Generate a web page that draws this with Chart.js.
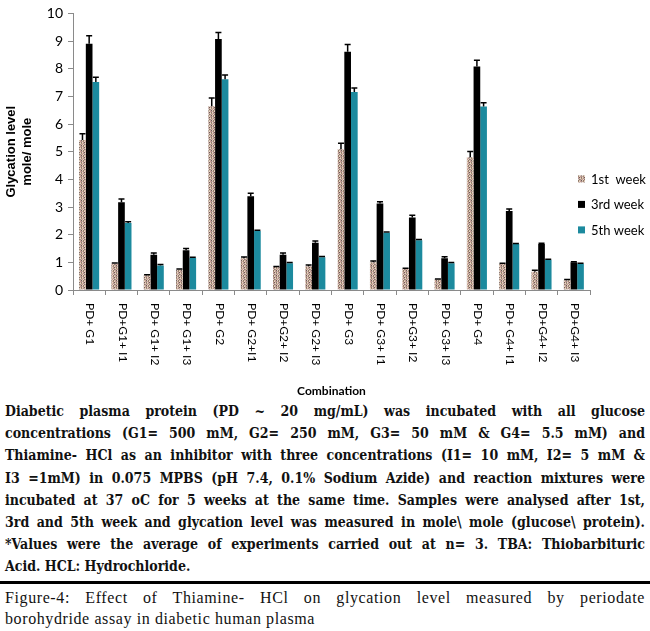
<!DOCTYPE html>
<html lang="en">
  <head>
    <meta charset="UTF-8" />
    <title>Glycation level</title>
    <script src="https://cdn.jsdelivr.net/npm/chart.js"></script>
    <style>
      body {
        margin: 0;
        background: #fff;
        width: 650px;
      }
      .chart-box {
        position: relative;
        width: 650px;
        height: 400px;
      }
      .caption {
        font-family: "DejaVu Serif", "Liberation Serif", serif;
        font-stretch: condensed;
        font-weight: bold;
        font-size: 14px;
        line-height: 22.2px;
        color: #111;
        padding: 0 5px;
      }
      .caption div {
        white-space: nowrap;
        text-align: justify;
        text-align-last: justify;
      }
      .caption div.last {
        text-align-last: left;
      }
      .rule {
        margin: 3px 0 0 0;
        border-top: 3px solid #000;
      }
      .figure {
        font-family: "Liberation Serif", "Times New Roman", serif;
        font-size: 16px;
        letter-spacing: 0.6px;
        line-height: 21px;
        color: #111;
        padding: 3px 5px 0 5px;
      }
      .figure div {
        white-space: nowrap;
        text-align: justify;
        text-align-last: justify;
      }
      .figure div.last {
        text-align-last: left;
      }
    </style>
  </head>
  <body>
    <div class="chart-box"><canvas id="chart"></canvas></div>

    <div class="caption">
      <div>Diabetic plasma protein (PD ~ 20 mg/mL) was incubated with all glucose</div>
      <div>concentrations (G1= 500 mM, G2= 250 mM, G3= 50 mM &amp; G4= 5.5 mM) and</div>
      <div>Thiamine- HCl as an inhibitor with three concentrations (I1= 10 mM, I2= 5 mM &amp;</div>
      <div>I3 =1mM) in 0.075 MPBS (pH 7.4, 0.1% Sodium Azide) and reaction mixtures were</div>
      <div>incubated at 37 oC for 5 weeks at the same time. Samples were analysed after 1st,</div>
      <div>3rd and 5th week and glycation level was measured in mole\ mole (glucose\ protein).</div>
      <div>*Values were the average of experiments carried out at n= 3. TBA: Thiobarbituric</div>
      <div class="last">Acid. HCL: Hydrochloride.</div>
    </div>
    <div class="rule"></div>
    <div class="figure">
      <div>Figure-4: Effect of Thiamine- HCl on glycation level measured by periodate</div>
      <div class="last">borohydride assay in diabetic human plasma</div>
    </div>

    <script>
      // categories
      const labels = [
        "PD+ G1", "PD+G1+ I1", "PD+ G1+ I2", "PD+ G1+ I3",
        "PD+ G2", "PD+ G2+I1", "PD+G2+ I2", "PD+ G2+ I3",
        "PD+ G3", "PD+ G3+ I1", "PD+G3+ I2", "PD+ G3+ I3",
        "PD+ G4", "PD+ G4+ I1", "PD+G4+ I2", "PD+G4+ I3"
      ];
      const seriesNames = ["1st  week", "3rd week", "5th week"];

      // glycation level (mole/mole)
      const week1 = [5.42, 0.95, 0.53, 0.73, 6.64, 1.15, 0.83, 0.86, 5.09, 1.00, 0.77, 0.38, 4.80, 0.95, 0.66, 0.35];
      const week3 = [8.90, 3.17, 1.27, 1.44, 9.07, 3.39, 1.27, 1.71, 8.61, 3.13, 2.62, 1.15, 8.08, 2.86, 1.66, 1.00];
      const week5 = [7.52, 2.42, 0.89, 1.16, 7.62, 2.13, 0.97, 1.18, 7.16, 2.07, 1.80, 0.97, 6.63, 1.66, 1.09, 0.95];

      // upper error bars
      const err1 = [0.23, 0.03, 0.02, 0.03, 0.30, 0.04, 0.02, 0.04, 0.22, 0.05, 0.02, 0.02, 0.21, 0.02, 0.05, 0.03];
      const err3 = [0.29, 0.12, 0.07, 0.06, 0.24, 0.11, 0.07, 0.06, 0.27, 0.06, 0.08, 0.05, 0.23, 0.07, 0.03, 0.02];
      const err5 = [0.17, 0.05, 0.03, 0.02, 0.15, 0.03, 0.02, 0.03, 0.14, 0.03, 0.03, 0.02, 0.14, 0.02, 0.02, 0.02];

      const yTicks = [0, 1, 2, 3, 4, 5, 6, 7, 8, 9, 10];

      const canvas = document.getElementById("chart");

      // speckled fill for the 1st week bars
      function speckle() {
        const tones = ["#c9ad9c", "#8d776b", "#c79a94", "#e6d3c6", "#9e8a72", "#6e5c58", "#d6bda4", "#a9908f"];
        const cells = [
          [0, 5, 3, 1, 6],
          [2, 7, 0, 4, 3],
          [6, 1, 3, 2, 5],
          [3, 4, 6, 7, 0],
          [7, 0, 2, 3, 1],
        ];
        const c = document.createElement("canvas");
        c.width = 5;
        c.height = 5;
        const g = c.getContext("2d");
        cells.forEach((row, j) => {
          row.forEach((t, i) => {
            g.fillStyle = tones[t];
            g.fillRect(i, j, 1, 1);
          });
        });
        return canvas.getContext("2d").createPattern(c, "repeat");
      }

      const errors = [err1, err3, err5];

      // error bars, upper half only
      const errorBars = {
        id: "errorBars",
        afterDatasetsDraw(chart) {
          const ctx = chart.ctx;
          const y = chart.scales.y;
          ctx.save();
          ctx.strokeStyle = "#000";
          ctx.lineWidth = 1.5;
          chart.data.datasets.forEach((ds, di) => {
            chart.getDatasetMeta(di).data.forEach((bar, i) => {
              const top = y.getPixelForValue(ds.data[i] + errors[di][i]);
              ctx.beginPath();
              ctx.moveTo(bar.x, bar.y);
              ctx.lineTo(bar.x, top);
              ctx.moveTo(bar.x - 3, top);
              ctx.lineTo(bar.x + 3, top);
              ctx.stroke();
            });
          });
          ctx.restore();
        },
      };

      // category labels read top to bottom
      const downLabels = {
        id: "downLabels",
        afterDraw(chart) {
          const ctx = chart.ctx;
          const x = chart.scales.x;
          ctx.save();
          ctx.fillStyle = "#000";
          ctx.font = "12px Lato, sans-serif";
          ctx.textAlign = "left";
          ctx.textBaseline = "middle";
          chart.data.labels.forEach((lab, i) => {
            ctx.save();
            ctx.translate(x.getPixelForTick(i) + 1, x.top + 13);
            ctx.rotate(Math.PI / 2);
            ctx.fillText(lab, 0, 0);
            ctx.restore();
          });
          ctx.restore();
        },
      };

      // legend to the right, above the last groups
      const sideLegend = {
        id: "sideLegend",
        afterDraw(chart) {
          const ctx = chart.ctx;
          const area = chart.chartArea;
          ctx.save();
          ctx.font = "13px Lato, sans-serif";
          ctx.textBaseline = "middle";
          chart.data.datasets.forEach((ds, i) => {
            const cy = area.top + 166 + i * 25.5;
            ctx.fillStyle = ds.backgroundColor;
            ctx.fillRect(area.right - 12, cy - 4, 7, 7);
            ctx.fillStyle = "#000";
            ctx.fillText(ds.label, area.right + 1, cy);
          });
          ctx.restore();
        },
      };

      new Chart(canvas, {
        type: "bar",
        data: {
          labels: labels,
          datasets: [
            { label: seriesNames[0], data: week1, backgroundColor: speckle() },
            { label: seriesNames[1], data: week3, backgroundColor: "#000000" },
            { label: seriesNames[2], data: week5, backgroundColor: "#1c8a9e" },
          ],
        },
        options: {
          responsive: true,
          maintainAspectRatio: false,
          animation: false,
          layout: { padding: { top: 8, right: 60, bottom: 0, left: 0 } },
          datasets: {
            bar: { categoryPercentage: 0.62, barPercentage: 1.0 },
          },
          plugins: {
            legend: { display: false },
            tooltip: { enabled: false },
          },
          scales: {
            x: {
              grid: {
                drawOnChartArea: false,
                drawTicks: true,
                tickLength: 5,
                color: "#8a8a8a",
                offset: true,
              },
              border: { color: "#8a8a8a" },
              ticks: { display: false },
              title: {
                display: true,
                text: "Combination",
                color: "#000",
                font: { family: "Lato, sans-serif", size: 12, weight: "bold" },
                padding: { top: 0, bottom: 2 },
              },
              afterFit(scale) {
                scale.height = 110;
              },
            },
            y: {
              min: 0,
              max: 10,
              afterBuildTicks(scale) {
                scale.ticks = yTicks.map((v) => ({ value: v }));
              },
              grid: {
                drawOnChartArea: false,
                drawTicks: true,
                tickLength: 5,
                color: "#8a8a8a",
              },
              border: { color: "#8a8a8a" },
              ticks: {
                color: "#000",
                padding: 5,
                font: { family: "Lato, sans-serif", size: 14 },
              },
              title: {
                display: true,
                text: ["Glycation level", "mole/ mole"],
                color: "#000",
                font: { family: "Liberation Sans, sans-serif", size: 13, weight: "bold", lineHeight: 1.2 },
                padding: { top: 4, bottom: 0 },
              },
              afterFit(scale) {
                scale.width = 73;
              },
            },
          },
        },
        plugins: [errorBars, downLabels, sideLegend],
      });
    </script>
  </body>
</html>
